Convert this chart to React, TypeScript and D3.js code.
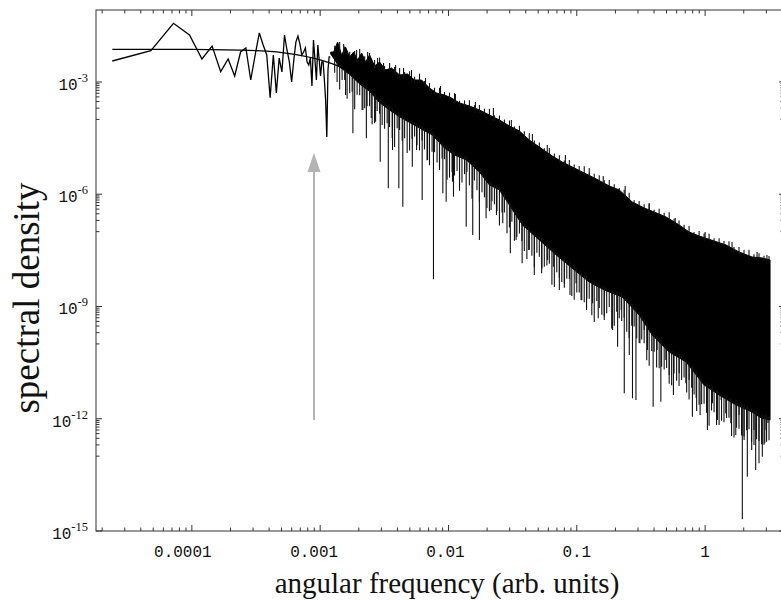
import React from 'react';
import * as d3 from 'd3';

const W = 781;
const H = 601;
const frame = { left: 96, top: 10, right: 785, bottom: 531 };

// ---- data ----
// frequency grid step of the spectrum (first point ≈ 2.4e-5)
const FREQ_STEP = 2.397e-5;
// log10 spectral density of the first 50 (resolved) spectral points
const lowFreqLog10Density = [
  -2.439, -2.164, -1.431, -1.744, -2.385, -2.038, -2.725, -2.385, -2.84, -2.198,
  -2.091, -2.947, -2.278, -1.69, -2.011, -2.278, -3.42, -2.278, -3.294, -2.359,
  -2.733, -1.744, -2.145, -2.465, -3.0, -2.412, -1.931, -1.771, -1.984, -2.278,
  -2.198, -2.091, -2.465, -2.546, -2.359, -3.107, -1.878, -2.412, -2.947, -2.011,
  -2.412, -2.84, -2.465, -2.465, -2.947, -3.481, -4.47, -2.68, -2.332, -2.332,
];

// dense part: upper edge of the black band
const upperEnvLog10Freq = [
  -2.918, -2.895, -2.864, -2.833, -2.802, -2.77, -2.739, -2.708, -2.677, -2.646,
  -2.615, -2.576, -2.537, -2.49, -2.444, -2.381, -2.319, -2.265, -2.21, -2.148,
  -2.093, -2.031, -1.977, -1.914, -1.837, -1.759, -1.681, -1.603, -1.525, -1.447,
  -1.37, -1.292, -1.191, -1.113, -1.035, -0.942, -0.848, -0.747, -0.669, -0.568,
  -0.475, -0.397, -0.304, -0.202, -0.125, -0.047, 0.047, 0.163, 0.265, 0.366,
  0.444, 0.506,
];
const upperEnvLog10Density = [
  -2.2, -2.198, -1.931, -2.278, -2.065, -2.332, -2.198, -2.412, -2.225, -2.465,
  -2.278, -2.572, -2.465, -2.68, -2.626, -2.813, -2.786, -2.947, -2.947, -3.16,
  -3.294, -3.348, -3.428, -3.561, -3.641, -3.748, -3.882, -4.015, -4.176, -4.309,
  -4.55, -4.737, -4.978, -5.138, -5.272, -5.432, -5.592, -5.779, -5.886, -6.207,
  -6.367, -6.474, -6.608, -6.821, -7.009, -7.115, -7.222, -7.356, -7.543, -7.677,
  -7.703, -7.757,
];

// dense part: lower edge of the solid black band
const lowerEnvLog10Freq = [
  -2.918, -2.848, -2.77, -2.693, -2.615, -2.537, -2.459, -2.381, -2.304, -2.226,
  -2.125, -2.031, -1.953, -1.86, -1.759, -1.681, -1.603, -1.525, -1.424, -1.292,
  -1.16, -1.019, -0.903, -0.786, -0.646, -0.514, -0.412, -0.28, -0.148, -0.008,
  0.109, 0.241, 0.366, 0.436, 0.506,
];
const lowerEnvLog10Density = [
  -2.25, -2.6, -2.8, -3.05, -3.25, -3.55, -3.75, -3.93, -4.08, -4.229,
  -4.417, -4.764, -4.951, -5.084, -5.405, -5.752, -5.886, -6.287, -6.821, -7.222,
  -7.623, -8.024, -8.345, -8.558, -8.746, -9.227, -9.761, -10.216, -10.483, -11.097,
  -11.365, -11.632, -11.819, -11.979, -12.033,
];

// deep minima hanging below the band
const downSpikeLog10Freq = [
  -2.802, -2.745, -2.667, -2.64, -2.602, -2.568, -2.532, -2.469, -2.436, -2.387,
  -2.356, -2.282, -2.249, -2.205, -2.163, -2.117, -2.07, -2.044, -2.018, -1.969,
  -1.961, -1.914, -1.862, -1.811, -1.759, -1.707, -1.668, -1.626, -1.577, -1.518,
  -1.473, -1.426, -1.375, -1.331, -1.274, -1.227, -1.183, -1.136, -1.097, -1.053,
  -1.006, -0.967, -0.924, -0.877, -0.833, -0.786, -0.721, -0.682, -0.654, -0.63,
  -0.591, -0.566, -0.539, -0.508, -0.475, -0.449, -0.405, -0.374, -0.345, -0.306,
  -0.28, -0.247, -0.202, -0.15, -0.125, -0.099, -0.07, -0.039, 0.018, 0.057,
  0.096, 0.125, 0.161, 0.2, 0.239, 0.265, 0.29, 0.304, 0.329, 0.363,
  0.381, 0.394, 0.42, 0.446, 0.465, 0.475, 0.49,
];
const downSpikeLog10Density = [
  -3.348, -4.371, -3.748, -4.505, -3.962, -4.061, -5.13, -5.841, -4.817, -5.841,
  -6.333, -5.263, -4.817, -6.153, -5.084, -8.273, -5.352, -5.974, -6.199, -5.664,
  -6.065, -5.619, -6.867, -7.089, -7.222, -6.643, -6.421, -6.554, -6.776, -7.578,
  -7.222, -7.845, -7.49, -8.158, -8.113, -7.757, -7.936, -8.558, -8.38, -8.692,
  -8.38, -8.826, -9.093, -8.914, -9.315, -9.36, -9.628, -10.074, -9.093, -11.319,
  -10.296, -11.453, -11.498, -9.983, -9.628, -10.162, -11.677, -10.162, -11.544, -10.429,
  -10.83, -11.365, -10.785, -11.052, -10.964, -11.945, -11.445, -11.899, -12.3, -11.587,
  -12.033, -11.498, -11.854, -12.121, -12.434, -11.899, -14.687, -12.567, -13.548, -12.835,
  -12.3, -13.369, -13.19, -13.013, -12.656, -12.3, -12.113,
];

// short minima forming the ragged lower fringe (depth below the solid edge, decades)
const fringeLog10Freq = [
  -2.887, -2.848, -2.809, -2.77, -2.731, -2.692, -2.653, -2.615, -2.576, -2.537,
  -2.498, -2.459, -2.42, -2.381, -2.342, -2.303, -2.264, -2.226, -2.187, -2.148,
  -2.109, -2.07, -2.031, -1.992, -1.953, -1.914, -1.875, -1.837, -1.798, -1.759,
  -1.72, -1.681, -1.642, -1.603, -1.564, -1.525, -1.486, -1.447, -1.409, -1.37,
  -1.331, -1.292, -1.253, -1.214, -1.175, -1.136, -1.097, -1.058, -1.02, -0.981,
  -0.942, -0.903, -0.864, -0.825, -0.786, -0.747, -0.708, -0.669, -0.631, -0.592,
  -0.553, -0.514, -0.475, -0.436, -0.397, -0.358, -0.319, -0.28, -0.242, -0.203,
  -0.164, -0.125, -0.086, -0.047, -0.008, 0.031, 0.07, 0.109, 0.147, 0.186,
  0.225, 0.264, 0.303, 0.342, 0.381, 0.42, 0.459, 0.498,
];
const fringeDepthDecades = [
  0.35, 0.6, 0.25, 0.5, 0.8, 0.3, 0.55, 0.4, 0.7, 0.3,
  0.6, 0.45, 0.9, 0.35, 0.5, 0.75, 0.3, 0.6, 0.5, 0.85,
  0.4, 0.65, 0.3, 0.7, 0.55, 0.9, 0.4, 0.6, 0.35, 0.8,
  0.5, 0.7, 0.45, 0.95, 0.4, 0.6, 0.75, 0.35, 0.65, 0.5,
  0.85, 0.45, 0.6, 0.4, 0.9, 0.55, 0.7, 0.35, 0.8, 0.5,
  0.65, 0.45, 1.0, 0.55, 0.7, 0.4, 0.85, 0.6, 0.5, 0.9,
  0.45, 0.75, 0.55, 0.95, 0.4, 0.7, 0.6, 0.85, 0.5, 0.75,
  0.45, 0.9, 0.6, 0.7, 0.5, 1.0, 0.55, 0.8, 0.65, 0.45,
  0.9, 0.6, 0.75, 0.5, 0.85, 0.65, 0.7, 0.55,
];
// second row of fringe minima, lying between the first
const fringe2Log10Freq = [
  -2.868, -2.829, -2.79, -2.751, -2.712, -2.673, -2.634, -2.595, -2.556, -2.517,
  -2.478, -2.439, -2.4, -2.361, -2.322, -2.284, -2.245, -2.206, -2.167, -2.128,
  -2.089, -2.05, -2.011, -1.972, -1.933, -1.895, -1.856, -1.817, -1.778, -1.739,
  -1.7, -1.661, -1.622, -1.583, -1.544, -1.506, -1.467, -1.428, -1.389, -1.35,
  -1.311, -1.272, -1.233, -1.194, -1.156, -1.117, -1.078, -1.039, -1.0, -0.961,
  -0.922, -0.883, -0.844, -0.805, -0.767, -0.728, -0.689, -0.65, -0.611, -0.572,
  -0.533, -0.494, -0.455, -0.416, -0.378, -0.339, -0.3, -0.261, -0.222, -0.183,
  -0.144, -0.105, -0.066, -0.027, 0.011, 0.05, 0.089, 0.128, 0.167, 0.206,
  0.245, 0.284, 0.323, 0.362, 0.401, 0.44, 0.479,
];
const fringe2DepthDecades = [
  0.5, 0.3, 0.7, 0.4, 0.35, 0.65, 0.45, 0.8, 0.3, 0.55,
  0.4, 0.7, 0.35, 0.6, 0.85, 0.4, 0.5, 0.3, 0.75, 0.45,
  0.6, 0.35, 0.8, 0.5, 0.4, 0.65, 0.3, 0.9, 0.55, 0.45,
  0.7, 0.4, 0.6, 0.5, 0.85, 0.35, 0.55, 0.45, 0.8, 0.6,
  0.4, 0.7, 0.5, 0.9, 0.45, 0.6, 0.4, 0.75, 0.55, 0.65,
  0.5, 0.85, 0.4, 0.7, 0.6, 0.95, 0.45, 0.65, 0.8, 0.5,
  0.7, 0.55, 0.9, 0.45, 0.75, 0.6, 0.5, 0.85, 0.65, 0.55,
  0.8, 0.5, 0.95, 0.6, 0.7, 0.55, 0.85, 0.65, 0.5, 0.9,
  0.6, 0.75, 0.55, 0.8, 0.65, 0.7, 0.6,
];
// small maxima forming the ragged upper edge (height above the edge, decades)
const upFringeHeightDecades = [
  0.1, 0.18, 0.06, 0.14, 0.08, 0.2, 0.1, 0.05, 0.16, 0.12,
  0.07, 0.15, 0.1, 0.19, 0.06, 0.12, 0.09, 0.17, 0.05, 0.13,
  0.1, 0.16, 0.08, 0.12, 0.18, 0.06, 0.11, 0.15, 0.07, 0.13,
  0.1, 0.17, 0.06, 0.12, 0.09, 0.15, 0.05, 0.14, 0.11, 0.18,
  0.08, 0.12, 0.06, 0.16, 0.1, 0.13, 0.07, 0.15, 0.09, 0.12,
  0.18, 0.06, 0.11, 0.14, 0.08, 0.16, 0.1, 0.05, 0.13, 0.17,
  0.07, 0.12, 0.1, 0.15, 0.06, 0.14, 0.09, 0.18, 0.08, 0.12,
  0.1, 0.16, 0.05, 0.13, 0.11, 0.15, 0.07, 0.12, 0.09, 0.14,
  0.06, 0.13, 0.1, 0.16, 0.08, 0.12, 0.07, 0.1,
];

// taller maxima poking above the band
const upSpikeLog10Freq = [
  -2.817, -2.716, -2.63, -2.553, -2.506, -2.412, -2.35, -2.288, -2.179, -2.062,
  -1.946, -1.79, -1.65, -1.51, -1.346, -1.23, -1.089, -0.903, -0.794, -0.623,
  -0.436, -0.233, 0.0, 0.21, 0.405, 0.482,
];
const upSpikeLog10Density = [
  -1.984, -2.145, -2.198, -2.359, -2.492, -2.546, -2.626, -2.68, -2.893, -3.107,
  -3.321, -3.535, -3.695, -4.015, -4.39, -4.684, -4.951, -5.298, -5.512, -5.779,
  -6.234, -6.635, -7.009, -7.276, -7.543, -7.623,
];

// smooth fitted spectrum
const fitLog10Freq = [-4.62, -4.0, -3.5, -3.2, -3.0, -2.8, -2.6, -2.4, -2.2, -2.0, -1.0, 0.0, 0.506];
const fitLog10Density = [-2.126, -2.13, -2.164, -2.262, -2.41, -2.648, -2.961, -3.321, -3.704, -4.097, -6.092, -8.092, -9.104];

// axis ticks
const xTickValues = [1e-4, 1e-3, 1e-2, 1e-1, 1];
const xTickLabels = ['0.0001', '0.001', '0.01', '0.1', '1'];
const yTickExponents = [-3, -6, -9, -12, -15];

// grey arrow marker
const arrowFreq = 8.95e-4;
const arrowBaseDensity = 9.2e-13;
const arrowTipDensity = 1.27e-5;

export default function App() {
  const x = d3.scaleLog().domain([10 ** -4.747, 10 ** 0.6226]).range([frame.left, frame.right]);
  const y = d3.scaleLog().domain([1e-15, 10 ** -1.076]).range([frame.bottom, frame.top]);

  const X = (lf: number) => x(10 ** lf);
  const Y = (ld: number) => y(10 ** ld);

  const lowPts: [number, number][] = lowFreqLog10Density.map((v, i) => [x((i + 1) * FREQ_STEP), Y(v)]);
  const line = d3.line();
  const lowPath = line(lowPts) || '';

  const bandPts: [number, number][] = [
    ...upperEnvLog10Freq.map((f, i) => [X(f), Y(upperEnvLog10Density[i])] as [number, number]),
    ...lowerEnvLog10Freq.map((f, i) => [X(f), Y(lowerEnvLog10Density[i])] as [number, number]).reverse(),
  ];
  const bandPath = (line(bandPts) || '') + 'Z';

  const lowerAt = d3.scaleLinear().domain(lowerEnvLog10Freq).range(lowerEnvLog10Density).clamp(true);
  const upperAt = d3.scaleLinear().domain(upperEnvLog10Freq).range(upperEnvLog10Density).clamp(true);

  const fitPath =
    d3.line().curve(d3.curveMonotoneX)(fitLog10Freq.map((f, i) => [X(f), Y(fitLog10Density[i])] as [number, number])) || '';

  // ticks
  const xMinor: number[] = [];
  for (let e = -5; e <= 0; e++) {
    for (let m = 2; m <= 9; m++) {
      const v = m * 10 ** e;
      if (x(v) > frame.left + 0.5 && x(v) < frame.right - 0.5) xMinor.push(v);
    }
  }
  const yMinor: number[] = [];
  yTickExponents.forEach((p) => {
    for (let m = 1; m <= 9; m++) {
      const v = m * 10 ** (p - 1);
      if (y(v) < frame.bottom && y(v) > frame.top) yMinor.push(v);
    }
  });

  const axisColor = '#333';
  const arrowX = x(arrowFreq);
  const arrowTipY = y(arrowTipDensity);
  const arrowBaseY = y(arrowBaseDensity);

  const fringeLines = (freqs: number[], depths: number[], key: string) =>
    freqs.map((f, i) => (
      <line
        key={key + i}
        x1={X(f)}
        x2={X(f)}
        y1={Y(lowerAt(f)) - 3}
        y2={Y(lowerAt(f) - depths[i])}
        stroke="#111"
        strokeWidth={1.1}
      />
    ));

  return (
    <svg width={W} height={H} style={{ position: 'absolute', left: 0, top: 0, background: '#fff', display: 'block' }}>
      <defs>
        <clipPath id="plotClip">
          <rect x={frame.left} y={frame.top} width={frame.right - frame.left} height={frame.bottom - frame.top} />
        </clipPath>
      </defs>
      <rect x={0} y={0} width={W} height={H} fill="#fff" />

      <g clipPath="url(#plotClip)">
        <path d={bandPath} fill="#000" stroke="#000" strokeWidth={1} strokeLinejoin="round" />
        {fringeLines(fringeLog10Freq, fringeDepthDecades, 'f')}
        {fringeLines(fringe2Log10Freq, fringe2DepthDecades, 'g')}
        {fringeLog10Freq.map((f, i) => (
          <line
            key={'uf' + i}
            x1={X(f)}
            x2={X(f)}
            y1={Y(upperAt(f)) + 3}
            y2={Y(upperAt(f) + upFringeHeightDecades[i])}
            stroke="#111"
            strokeWidth={1.1}
          />
        ))}
        {downSpikeLog10Freq.map((f, i) => (
          <line key={'d' + i} x1={X(f)} x2={X(f)} y1={Y(lowerAt(f)) - 4} y2={Y(downSpikeLog10Density[i])} stroke="#111" strokeWidth={1.1} />
        ))}
        {upSpikeLog10Freq.map((f, i) => (
          <line key={'u' + i} x1={X(f)} x2={X(f)} y1={Y(upperAt(f)) + 4} y2={Y(upSpikeLog10Density[i])} stroke="#111" strokeWidth={1.1} />
        ))}
        <path d={lowPath} fill="none" stroke="#000" strokeWidth={1.3} strokeLinejoin="miter" />
        <path d={fitPath} fill="none" stroke="#000" strokeWidth={1.2} />
      </g>

      {/* arrow */}
      <line x1={arrowX} x2={arrowX} y1={arrowBaseY} y2={arrowTipY + 16} stroke="#b3b3b3" strokeWidth={2} />
      <polygon
        points={`${arrowX},${arrowTipY} ${arrowX - 6.5},${arrowTipY + 19} ${arrowX + 6.5},${arrowTipY + 19}`}
        fill="#b3b3b3"
      />

      {/* frame */}
      <rect
        x={frame.left}
        y={frame.top}
        width={frame.right - frame.left}
        height={frame.bottom - frame.top}
        fill="none"
        stroke={axisColor}
        strokeWidth={1}
      />

      {/* x ticks */}
      {xTickValues.map((v) => (
        <g key={'xt' + v}>
          <line x1={x(v)} x2={x(v)} y1={frame.bottom} y2={frame.bottom - 6} stroke={axisColor} />
          <line x1={x(v)} x2={x(v)} y1={frame.top} y2={frame.top + 6} stroke={axisColor} />
        </g>
      ))}
      {xMinor.map((v) => (
        <g key={'xm' + v}>
          <line x1={x(v)} x2={x(v)} y1={frame.bottom} y2={frame.bottom - 3.5} stroke={axisColor} />
          <line x1={x(v)} x2={x(v)} y1={frame.top} y2={frame.top + 3.5} stroke={axisColor} />
        </g>
      ))}
      {xTickLabels.map((t, i) => (
        <text
          key={'xl' + t}
          x={x(xTickValues[i]) + Math.min(0, -(t.length - 3) * 3)}
          y={557}
          textAnchor="middle"
          fontFamily="'Liberation Mono', 'DejaVu Sans Mono', monospace"
          fontSize={16}
          fill="#111"
        >
          {t}
        </text>
      ))}

      {/* y ticks */}
      {yTickExponents.map((p) => (
        <g key={'yt' + p}>
          <line x1={frame.left} x2={frame.left + 6} y1={y(10 ** p)} y2={y(10 ** p)} stroke={axisColor} />
          <line x1={frame.right} x2={frame.right - 6} y1={y(10 ** p)} y2={y(10 ** p)} stroke={axisColor} />
          <text
            x={88}
            y={y(10 ** p) + 8}
            textAnchor="end"
            fontFamily="'Liberation Mono', 'DejaVu Sans Mono', monospace"
            fontSize={16}
            fill="#111"
          >
            10
            <tspan dy={-8} fontFamily="'Liberation Serif', 'Times New Roman', serif" fontSize={12.5}>
              {String(p)}
            </tspan>
          </text>
        </g>
      ))}
      {yMinor.map((v) => (
        <g key={'ym' + v}>
          <line x1={frame.left} x2={frame.left + 3.5} y1={y(v)} y2={y(v)} stroke={axisColor} />
          <line x1={frame.right} x2={frame.right - 4.5} y1={y(v)} y2={y(v)} stroke={axisColor} />
        </g>
      ))}

      {/* axis titles */}
      <text
        x={447}
        y={593}
        textAnchor="middle"
        fontFamily="'Liberation Serif', 'Times New Roman', serif"
        fontSize={29}
        fill="#111"
      >
        angular frequency (arb. units)
      </text>
      <text
        transform="translate(39,298) rotate(-90)"
        textAnchor="middle"
        fontFamily="'Liberation Serif', 'Times New Roman', serif"
        fontSize={37}
        fill="#111"
      >
        spectral density
      </text>
    </svg>
  );
}
